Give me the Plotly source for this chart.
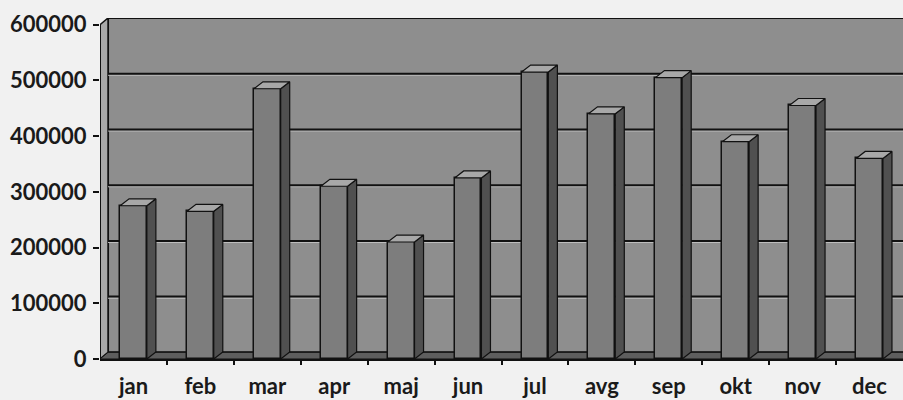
import plotly.graph_objects as go

# ---- data ----
months = ["jan", "feb", "mar", "apr", "maj", "jun", "jul", "avg", "sep", "okt", "nov", "dec"]
values = [275000, 265000, 485000, 310000, 210000, 325000, 515000, 440000, 505000, 390000, 455000, 360000]
y_ticks = [0, 100000, 200000, 300000, 400000, 500000, 600000]
y_tick_labels = ["0", "100000", "200000", "300000", "400000", "500000", "600000"]

# ---- 3D styling constants ----
BAR_W = 0.40          # front face width (category units)
BAR_DX = 0.135        # bar depth offset in x (category units)
BAR_DY = 12500        # bar depth offset in y (value units)
WALL_DX = 0.12        # back-wall offset in x
WALL_DY = 12000       # back-wall offset in y
X0, X1 = -0.5, len(months) - 0.5
YMAX = y_ticks[-1]

FONT = dict(family="Lato, 'Open Sans', sans-serif", size=22, color="#1a1a1a", weight=700)

xs = list(range(len(months)))

fig = go.Figure()

# front faces (real bars)
fig.add_trace(go.Bar(
    x=xs, y=values, width=BAR_W,
    marker=dict(color="#7d7d7d", line=dict(color="#111111", width=1.5)),
    hoverinfo="x+y", showlegend=False,
))

# side faces
sx, sy = [], []
for i, v in zip(xs, values):
    r = i + BAR_W / 2
    sx += [r, r + BAR_DX, r + BAR_DX, r, r, None]
    sy += [0, BAR_DY, v + BAR_DY, v, 0, None]
fig.add_trace(go.Scatter(
    x=sx, y=sy, mode="lines", fill="toself", fillcolor="#505050",
    line=dict(color="#111111", width=1.2), hoverinfo="skip", showlegend=False,
))

# top faces
tx, ty = [], []
for i, v in zip(xs, values):
    l, r = i - BAR_W / 2, i + BAR_W / 2
    tx += [l, r, r + BAR_DX, l + BAR_DX, l, None]
    ty += [v, v, v + BAR_DY, v + BAR_DY, v, None]
fig.add_trace(go.Scatter(
    x=tx, y=ty, mode="lines", fill="toself", fillcolor="#a8a8a8",
    line=dict(color="#111111", width=1.2), hoverinfo="skip", showlegend=False,
))

shapes = []
# back wall
shapes.append(dict(type="rect", xref="x", yref="y", layer="below",
                   x0=X0 + WALL_DX, x1=X1 + 1, y0=WALL_DY, y1=YMAX + WALL_DY,
                   fillcolor="#8e8e8e", line=dict(color="#111111", width=2)))
# left side wall
shapes.append(dict(type="path", xref="x", yref="y", layer="below",
                   path=f"M {X0},0 L {X0},{YMAX} L {X0 + WALL_DX},{YMAX + WALL_DY} L {X0 + WALL_DX},{WALL_DY} Z",
                   fillcolor="#a9a9a9", line=dict(color="#111111", width=1.5)))
# floor
shapes.append(dict(type="path", xref="x", yref="y", layer="below",
                   path=f"M {X0},0 L {X1 + 1},0 L {X1 + 1 + WALL_DX},{WALL_DY} L {X0 + WALL_DX},{WALL_DY} Z",
                   fillcolor="#5e5e5e", line=dict(color="#111111", width=1)))
# wall gridlines (with light highlight below)
for g in y_ticks[1:-1]:
    shapes.append(dict(type="line", xref="x", yref="y", layer="below",
                       x0=X0 + WALL_DX, x1=X1 + 1, y0=g + WALL_DY - 2600, y1=g + WALL_DY - 2600,
                       line=dict(color="#bdbdbd", width=1.2)))
    shapes.append(dict(type="line", xref="x", yref="y", layer="below",
                       x0=X0 + WALL_DX, x1=X1 + 1, y0=g + WALL_DY, y1=g + WALL_DY,
                       line=dict(color="#111111", width=2)))
# left axis line
shapes.append(dict(type="line", xref="x", yref="y", layer="above",
                   x0=X0, x1=X0, y0=0, y1=YMAX, line=dict(color="#111111", width=2)))

fig.update_layout(
    width=903, height=400,
    margin=dict(l=100, r=0, t=18, b=41, autoexpand=False),
    paper_bgcolor="#f1f1f1", plot_bgcolor="#f1f1f1",
    shapes=shapes,
    font=FONT,
    bargap=0,
    xaxis=dict(range=[X0, X1], tickvals=xs, ticktext=months, ticks="",
               showgrid=False, zeroline=False, showline=True, linecolor="#111111",
               linewidth=2, tickfont=FONT, ticklabelstandoff=7,
               automargin=False, fixedrange=True),
    xaxis2=dict(range=[X0, X1], overlaying="x", side="bottom", anchor="y",
                tickvals=[i + 0.5 for i in xs[:-1]], ticktext=[""] * (len(xs) - 1),
                ticks="outside", ticklen=5, tickwidth=2, tickcolor="#111111",
                showgrid=False, zeroline=False, showline=False,
                automargin=False, fixedrange=True),
    yaxis=dict(range=[0, YMAX + WALL_DY], tickvals=y_ticks, ticktext=y_tick_labels,
               ticks="outside", ticklen=6, tickwidth=2, tickcolor="#111111",
               showgrid=False, zeroline=False, showline=False,
               tickfont=FONT, ticklabelstandoff=2, automargin=False, fixedrange=True),
)
# invisible trace to activate xaxis2
fig.add_trace(go.Scatter(x=[X0], y=[0], xaxis="x2", mode="markers",
                         marker=dict(opacity=0), hoverinfo="skip", showlegend=False))

fig.write_html("out.html",
               config={"displayModeBar": False},
               post_script="document.body.style.margin='0';document.body.style.background='#f1f1f1';")
